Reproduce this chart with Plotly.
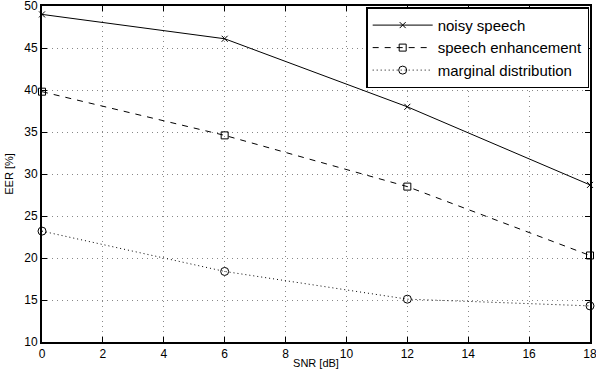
import plotly.graph_objects as go

snr = [0, 6, 12, 18]
noisy = [49.0, 46.1, 38.0, 28.7]
enh = [39.8, 34.6, 28.5, 20.3]
marg = [23.2, 18.4, 15.1, 14.3]

fig = go.Figure()
fig.add_trace(go.Scatter(x=snr, y=noisy, name="noisy speech", mode="lines+markers", cliponaxis=False,
                         line=dict(color="black", width=1, dash="solid"),
                         marker=dict(symbol="x-thin", size=6, color="black", line=dict(width=1, color="black"))))
fig.add_trace(go.Scatter(x=snr, y=enh, name="speech enhancement", mode="lines+markers", cliponaxis=False,
                         line=dict(color="black", width=1, dash="6px,6px"),
                         marker=dict(symbol="square-open", size=7, color="black", line=dict(width=1))))
fig.add_trace(go.Scatter(x=snr, y=marg, name="marginal distribution", mode="lines+markers", cliponaxis=False,
                         line=dict(color="black", width=1, dash="1px,3px"),
                         marker=dict(symbol="circle-open", size=8, color="black", line=dict(width=1))))

axis = dict(showgrid=True, gridcolor="#888888", griddash="1px,4px", gridwidth=1,
            showline=True, linecolor="black", linewidth=2, mirror="ticks",
            ticks="inside", ticklen=5, tickcolor="black", zeroline=False, automargin=False,
            ticklabeloverflow="allow",
            tickfont=dict(family="Liberation Sans, Arial", size=12, color="black"))

fig.update_layout(
    width=596, height=369,
    margin=dict(l=42, r=6, t=6, b=27),
    paper_bgcolor="white", plot_bgcolor="white",
    font=dict(family="Liberation Sans, Arial", size=11, color="black"),
    xaxis=dict(range=[0, 18], dtick=2, title=dict(text="SNR [dB]", standoff=0, font=dict(size=11)), **axis),
    yaxis=dict(range=[10, 50], dtick=5, title=dict(text="EER [%]", standoff=8, font=dict(size=11)), **axis),
    legend=dict(x=0.9985, y=0.996, xanchor="right", yanchor="top", bgcolor="white",
                bordercolor="black", borderwidth=1.5, font=dict(size=15),
                tracegroupgap=0, itemwidth=60),
)
fig.write_html("out.html", config={"displayModeBar": False},
               post_script="document.body.style.margin='0';")
